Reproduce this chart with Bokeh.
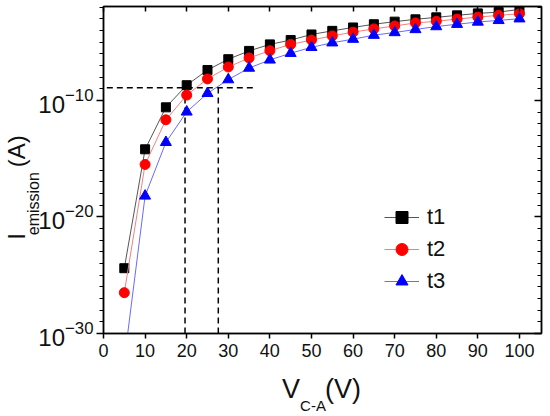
from bokeh.plotting import figure
from bokeh.models import (LinearAxis, LogAxis, FixedTicker, Range1d, Legend, LegendItem,
                          LogTickFormatter, LinearScale)
from bokeh.embed import file_html
from bokeh.resources import INLINE

# ---- data (log10 of emission current) ----
voltage = [5, 10, 15, 20, 25, 30, 35, 40, 45, 50, 55, 60, 65, 70, 75, 80, 85, 90, 95, 100]
log_t1 = [-24.4, -14.2, -10.6, -8.7, -7.4, -6.47, -5.76, -5.2, -4.83, -4.35, -4.04, -3.75,
          -3.47, -3.25, -3.05, -2.88, -2.71, -2.54, -2.43, -2.2]
log_t2 = [-26.5, -15.5, -11.67, -9.55, -8.16, -7.14, -6.36, -5.74, -5.2, -4.83, -4.47, -4.15,
          -3.87, -3.62, -3.36, -3.22, -3.03, -2.86, -2.71, -2.57]
log_t3 = [-32.3, -18.2, -13.6, -10.99, -9.4, -8.22, -7.23, -6.53, -5.96, -5.45, -5.06, -4.75,
          -4.41, -4.18, -3.92, -3.67, -3.47, -3.28, -3.14, -3.0]
series_names = ["t1", "t2", "t3"]

# guide lines
guide_log_level = -8.92
guide_x_end = 36
guide_voltages = [19.6, 27.6]

x_ticks = [0, 10, 20, 30, 40, 50, 60, 70, 80, 90, 100]
y_major = [1e-30, 1e-20, 1e-10]
y_minor = [10.0 ** k for k in range(-30, -1)]

# axis title pieces: text -> centre position (pixels along the frame)
x_title_main = {188: "V", 240: "(V)"}
x_title_sub = {210: "C-A"}
y_title_main = {98: "I", 184: "(A)"}
y_title_sub = {131: "emission"}

t1 = [10.0 ** v for v in log_t1]
t2 = [10.0 ** v for v in log_t2]
t3 = [10.0 ** v for v in log_t3]
guide_level = 10.0 ** guide_log_level

FONT = "Liberation Sans"

p = figure(width=550, height=416, output_backend="svg", toolbar_location=None,
           y_axis_type="log",
           x_range=Range1d(0, 105.3), y_range=Range1d(1e-30, 10 ** -1.95),
           min_border_left=102, min_border_right=9, min_border_top=6, min_border_bottom=80,
           x_axis_location=None, y_axis_location=None)
p.extra_x_ranges = {"tx": Range1d(0, 439)}
p.extra_x_scales = {"tx": LinearScale()}
p.extra_y_ranges = {"ty": Range1d(0, 330)}
p.extra_y_scales = {"ty": LinearScale()}
p.grid.visible = False
p.outline_line_color = "#222222"
p.outline_line_width = 1.5
p.background_fill_color = "white"
p.border_fill_color = "white"

# bottom axis
xb = LinearAxis(ticker=FixedTicker(ticks=x_ticks))
xb.major_tick_out = 5
xb.major_tick_in = 0
xb.minor_tick_line_color = None
xb.major_label_text_font = FONT
xb.major_label_text_font_size = "18px"
xb.major_label_text_color = "#111111"
xb.major_label_standoff = 5
xb.axis_line_width = 1.5
xb.major_tick_line_width = 1.5
p.add_layout(xb, "below")

# top axis (ticks inward, no labels)
xt = LinearAxis(ticker=FixedTicker(ticks=x_ticks))
xt.major_tick_out = 0
xt.major_tick_in = 5
xt.minor_tick_line_color = None
xt.major_label_text_color = None
xt.major_label_text_alpha = 0
xt.major_label_standoff = 0
xt.axis_line_width = 1.5
xt.major_tick_line_width = 1.5
p.add_layout(xt, "above")

# left axis
yl = LogAxis(ticker=FixedTicker(ticks=y_major, minor_ticks=y_minor),
             formatter=LogTickFormatter())
yl.major_tick_out = 7
yl.major_tick_in = 0
yl.minor_tick_out = 4
yl.minor_tick_in = 0
yl.major_label_text_font = FONT
yl.major_label_text_font_size = "24px"
yl.major_label_text_color = "#111111"
yl.major_label_standoff = 3
yl.axis_line_width = 1.5
yl.major_tick_line_width = 1.5
yl.minor_tick_line_width = 1.2
p.add_layout(yl, "left")

# right axis (ticks inward, no labels)
yr = LogAxis(ticker=FixedTicker(ticks=y_major, minor_ticks=y_minor))
yr.major_tick_out = 0
yr.major_tick_in = 7
yr.minor_tick_out = 0
yr.minor_tick_in = 4
yr.major_label_text_color = None
yr.major_label_text_alpha = 0
yr.major_label_standoff = 0
yr.axis_line_width = 1.5
yr.major_tick_line_width = 1.5
yr.minor_tick_line_width = 1.2
p.add_layout(yr, "right")


# title rows, drawn as label-only axes stacked in the side panels
def title_axis(pieces, size, standoff, side):
    if side == "below":
        ax = LinearAxis(x_range_name="tx")
    else:
        ax = LinearAxis(y_range_name="ty")
        ax.major_label_orientation = "vertical"
    ax.ticker = FixedTicker(ticks=sorted(pieces))
    ax.major_label_overrides = dict(pieces)
    ax.axis_line_color = None
    ax.major_tick_line_color = None
    ax.minor_tick_line_color = None
    ax.major_tick_out = 0
    ax.major_tick_in = 0
    ax.minor_tick_out = 0
    ax.minor_tick_in = 0
    ax.major_label_text_font = FONT
    ax.major_label_text_font_size = size
    ax.major_label_text_color = "#111111"
    try:
        ax.major_label_standoff = standoff
    except Exception:
        ax.major_label_standoff = 0
    p.add_layout(ax, side)
    return ax

# x title: V_{C-A} (V)
title_axis(x_title_main, "27px", 14, "below")
title_axis(x_title_sub, "15px", -10, "below")
# y title: I_{emission} (A)
title_axis(y_title_sub, "16px", -7, "left")
title_axis(y_title_main, "24px", -8, "left")

# guide dashed lines
p.line([0.8, guide_x_end], [guide_level, guide_level], line_color="black",
       line_width=1.5, line_dash="6 4")
for gv in guide_voltages:
    p.line([gv, gv], [1e-30, guide_level], line_color="black",
           line_width=1.5, line_dash="6 4")

# series
l1 = p.line(voltage, t1, line_color="#555555", line_width=1)
m1 = p.scatter(voltage, t1, marker="square", size=9, fill_color="black", line_color="black")
l2 = p.line(voltage, t2, line_color="#f08080", line_width=1)
m2 = p.scatter(voltage, t2, marker="circle", size=10, fill_color="#ff0000", line_color="#ff0000")
l3 = p.line(voltage, t3, line_color="#6a6aff", line_width=1)
m3 = p.scatter(voltage, t3, marker="triangle", size=11, fill_color="#0000ff", line_color="#0000ff")

legend = Legend(items=[LegendItem(label=series_names[0], renderers=[l1, m1]),
                       LegendItem(label=series_names[1], renderers=[l2, m2]),
                       LegendItem(label=series_names[2], renderers=[l3, m3])],
                location=(281, 37))
legend.border_line_color = None
legend.background_fill_alpha = 0
legend.padding = 0
legend.margin = 0
legend.spacing = 2
legend.glyph_width = 35
legend.glyph_height = 30
legend.label_height = 30
legend.label_standoff = 8
legend.label_text_font = FONT
legend.label_text_font_size = "22px"
legend.label_text_color = "#111111"
p.add_layout(legend, "center")

open("out.html", "w").write(file_html(p, INLINE))
